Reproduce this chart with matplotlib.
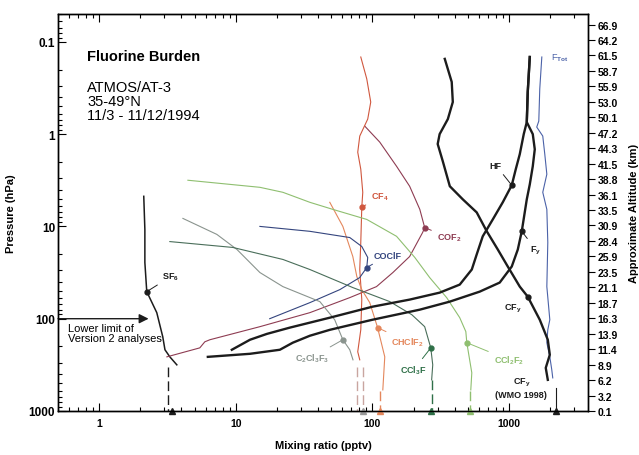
import matplotlib
matplotlib.use("Agg")
import matplotlib.pyplot as plt
from matplotlib.ticker import FixedLocator, NullLocator, NullFormatter

plt.rcParams["font.family"] = ["Liberation Sans", "DejaVu Sans"]
plt.rcParams["mathtext.fontset"] = "custom"
plt.rcParams["mathtext.rm"] = "Liberation Sans"
plt.rcParams["mathtext.bf"] = "Liberation Sans:bold"
plt.rcParams["mathtext.default"] = "bf"

# profiles: mixing ratio (pptv) vs pressure (hPa)
sf6_x = [2.12, 2.16, 2.16, 2.23, 2.64, 2.92, 3.03, 3.29, 3.70]
sf6_p = [4.72, 10.8, 24.6, 50.9, 86, 157, 217, 259, 316]

cof2_x = [87.8, 113, 150, 187, 222, 241, 233, 187, 141, 107, 68.2, 34.8, 15.0, 6.46, 5.93, 5.45, 3.13]
cof2_p = [0.819, 1.22, 2.23, 3.67, 6.54, 10.3, 11.6, 21.2, 31.6, 44.9, 59.1, 86, 122, 169, 178, 207, 259]

cf4_x = [82.1, 90.8, 97.1, 92.3, 80.7, 78.0, 82.1, 84.9, 83.5, 82.1, 80.7, 83.5, 82.1, 78.0, 80.7]
cf4_p = [0.146, 0.252, 0.449, 0.687, 1.05, 1.57, 2.40, 4.27, 6.22, 14.9, 29.3, 62.1, 132, 228, 279]

chclf2_x = [48.7, 60.7, 71.8, 76.8, 83.5, 95.5, 109, 123, 119]
chclf2_p = [5.48, 10.0, 21.2, 34.9, 48.4, 67.0, 125, 259, 591]

coclf_x = [17.7, 34.8, 57.7, 80.7, 90.8, 92.3, 83.5, 68.2, 34.8, 15.0]
coclf_p = [100, 67.0, 48.4, 35.8, 27.9, 21.7, 16.5, 13.2, 11.3, 10.0]

c2cl3f3_x = [4.10, 7.26, 10.2, 15.0, 22.1, 41.2, 52.9, 60.7, 68.2, 72.0]
c2cl3f3_p = [8.19, 12.2, 17.8, 31.6, 44.9, 65.3, 102.6, 169, 217, 279]

ccl3f_x = [3.29, 9.51, 22.1, 34.8, 71.8, 134, 194, 241, 267, 276, 271]
ccl3f_p = [14.6, 16.9, 22.8, 29.3, 46.0, 65.3, 90.5, 122, 207, 316, 460]

ccl2f2_x = [4.46, 15.0, 22.1, 34.8, 51.3, 90.8, 150, 204, 262, 349, 435, 482, 490, 533, 524]
ccl2f2_p = [3.16, 3.77, 4.27, 5.48, 6.54, 8.40, 12.8, 21.7, 35.8, 59.1, 97.5, 138, 182, 386, 591]

hf_x = [1416, 1368, 1346, 1279, 1196, 1118, 1045, 898, 759, 641, 579, 533, 435, 310, 187, 100, 48.7, 24.8, 16.9, 12.7, 9.35]
hf_p = [0.146, 0.349, 0.741, 1.0, 1.65, 2.40, 3.58, 5.48, 8.40, 12.8, 20.1, 29.3, 42.7, 52.2, 62.1, 74.1, 97.5, 125, 146, 169, 217]

fy_x = [1416, 1368, 1346, 1489, 1540, 1489, 1416, 1346, 1237, 1157, 1045, 853, 609, 368, 222, 100, 48.7, 34.8, 26.1, 21.0, 12.7, 6.24]
fy_p = [0.146, 0.349, 0.741, 1.0, 1.46, 2.23, 3.50, 5.09, 11.3, 17.8, 27.2, 40.6, 50.9, 65.3, 79.8, 102.6, 132, 153, 182, 217, 240, 259]

cfy_x = [338, 380, 387, 356, 310, 300, 327, 368, 458, 579, 686, 826, 977, 1196, 1368, 1675, 1918, 1984, 1853, 1918]
cfy_p = [0.153, 0.272, 0.449, 0.687, 1.0, 1.28, 1.97, 3.67, 5.09, 7.05, 11.3, 17.8, 27.2, 44.9, 57.7, 102.6, 169, 246, 341, 460]

ftot_x = [1734, 1675, 1648, 1592, 1762, 1823, 1887, 1762, 1887, 1918, 1887, 1984, 1918, 1887, 1984, 2051, 2085]
ftot_p = [0.146, 0.324, 0.722, 0.839, 1.05, 1.65, 2.72, 4.27, 6.54, 14.9, 44.9, 102.6, 132, 182, 259, 358, 438]

# tropospheric values (dashed lines down to the surface) and ground markers
dash_x = [3.18, 76.8, 84.9, 113, 271, 515]
dash_top = [333, 333, 333, 600, 460, 600]
tri_x = [3.4, 84.9, 113, 267, 515, 2193]
wmo_cfy = 2193

# labelled points: (text, marker x, marker p, text x, text p)
labels = [
    ("SF$_6$", 2.23, 50.9, 3.35, 34.9),
    ("CF$_4$", 83.5, 6.22, 113, 4.72),
    ("COF$_2$", 241, 10.3, 362, 13.2),
    ("COClF", 90.8, 27.9, 129, 20.7),
    ("CHClF$_2$", 109, 125, 181, 178),
    ("C$_2$Cl$_3$F$_3$", 60.7, 169, 36.0, 262),
    ("CCl$_3$F", 267, 207, 200, 358),
    ("CCl$_2$F$_2$", 490, 182, 993, 279),
    ("HF", 1045, 3.58, 798, 2.17),
    ("F$_y$", 1237, 11.3, 1566, 17.8),
    ("CF$_y$", 1368, 57.7, 1062, 75.9),
]

alt_labels = ["0.1", "3.2", "6.2", "8.9", "11.4", "13.9", "16.3", "18.7", "21.1", "23.5",
              "25.9", "28.4", "30.9", "33.5", "36.1", "38.8", "41.5", "44.3", "47.2",
              "50.1", "53.0", "55.9", "58.7", "61.5", "64.2", "66.9"]

BLACK = "#1c1c1c"
colors = {
    "SF$_6$": BLACK, "CF$_4$": "#d0573e", "COF$_2$": "#8e3c52", "COClF": "#34457e",
    "CHClF$_2$": "#e4875c", "C$_2$Cl$_3$F$_3$": "#8a948e", "CCl$_3$F": "#2f7048",
    "CCl$_2$F$_2$": "#8fbf70", "HF": BLACK, "F$_y$": BLACK, "CF$_y$": BLACK,
}
FTOT = "#4b62a8"


def main():
    fig = plt.figure(figsize=(6.39, 4.56), dpi=100)
    ax = fig.add_axes([0.0908, 0.0965, 0.829, 0.8705])
    ax.set_xscale("log")
    ax.set_yscale("log")

    thin = 0.8
    ax.plot(sf6_x, sf6_p, color=colors["SF$_6$"], lw=1.1)
    ax.plot(cof2_x, cof2_p, color=colors["COF$_2$"], lw=thin)
    ax.plot(cf4_x, cf4_p, color=colors["CF$_4$"], lw=thin)
    ax.plot(chclf2_x, chclf2_p, color=colors["CHClF$_2$"], lw=thin)
    ax.plot(coclf_x, coclf_p, color=colors["COClF"], lw=thin)
    ax.plot(c2cl3f3_x, c2cl3f3_p, color=colors["C$_2$Cl$_3$F$_3$"], lw=thin)
    ax.plot(ccl3f_x, ccl3f_p, color="#4a6e5a", lw=thin)
    ax.plot(ccl2f2_x, ccl2f2_p, color=colors["CCl$_2$F$_2$"], lw=thin)
    ax.plot(ftot_x, ftot_p, color=FTOT, lw=thin)
    ax.plot(hf_x, hf_p, color=BLACK, lw=1.7)
    ax.plot(fy_x, fy_p, color=BLACK, lw=1.7)
    ax.plot(cfy_x, cfy_p, color=BLACK, lw=1.7)

    # dashed extensions to the ground
    dash_colors = [BLACK, "#c9a5a0", "#c9a5a0", "#e4875c", "#2f7048", "#8fbf70"]
    for x, top, c in zip(dash_x, dash_top, dash_colors):
        ax.plot([x, x], [top, 1000], color=c, lw=1.0, ls=(0, (7, 3)))
    ax.plot([wmo_cfy, wmo_cfy], [560, 1000], color=BLACK, lw=0.8)
    tri_colors = [BLACK, "#999999", "#e4875c", "#2f7048", "#8fbf70", BLACK]
    for x, c in zip(tri_x, tri_colors):
        ax.plot(x, 1000, marker="^", color=c, ms=5, clip_on=False, zorder=5)

    # marker dots with leader lines to the labels
    for text, mx, mp, tx, tp in labels:
        c = colors[text]
        ax.plot(mx, mp, "o", color=c, ms=3.5, zorder=4)
        ax.annotate(text, xy=(mx, mp), xytext=(tx, tp), color=c, fontsize=6.5,
                    fontweight="bold", ha="center", va="center",
                    arrowprops=dict(arrowstyle="-", color=c, lw=0.7, shrinkA=2, shrinkB=0))
    ax.text(2345, 0.146, "F$_{Tot}$", color=FTOT, fontsize=6.5, ha="center", va="center")
    ax.text(1230, 560, "CF$_y$\n(WMO 1998)", color=BLACK, fontsize=6.5, fontweight="bold",
            ha="center", va="center", linespacing=1.3)

    # lower limit arrow
    ax.annotate("", xy=(2.3, 100), xytext=(0.5, 100),
                arrowprops=dict(arrowstyle="-|>", color=BLACK, lw=1.0, mutation_scale=14,
                                shrinkA=0, shrinkB=0))
    ax.text(0.019, 0.222, "Lower limit of\nVersion 2 analyses", transform=ax.transAxes,
            fontsize=8, va="top", ha="left", linespacing=1.0)

    ax.text(0.055, 0.894, "Fluorine Burden", transform=ax.transAxes, fontsize=10.5,
            fontweight="bold", va="center")
    ax.text(0.055, 0.835, "ATMOS/AT-3\n35-49°N\n11/3 - 11/12/1994", transform=ax.transAxes,
            fontsize=10.5, va="top", linespacing=1.0)

    ax.set_xlim(0.5, 3760)
    ax.set_ylim(1000, 0.05)
    ax.xaxis.set_major_locator(FixedLocator([1, 10, 100, 1000]))
    ax.set_xticklabels(["1", "10", "100", "1000"], fontsize=7.5, fontweight="bold")
    ax.yaxis.set_major_locator(FixedLocator([0.1, 1, 10, 100, 1000]))
    ax.set_yticklabels(["0.1", "1", "10", "100", "1000"], fontsize=8.5, fontweight="bold")
    ax.xaxis.set_minor_formatter(NullFormatter())
    ax.yaxis.set_minor_formatter(NullFormatter())
    ax.tick_params(which="both", direction="in", top=True, right=False, width=0.8)
    ax.tick_params(which="major", length=6)
    ax.tick_params(which="minor", length=3)
    ax.tick_params(axis="x", which="major", pad=5)
    ax.tick_params(axis="y", which="major", pad=2)

    ax.set_xlabel("Mixing ratio (pptv)", fontsize=8, fontweight="bold", labelpad=9)
    ax.set_ylabel("Pressure (hPa)", fontsize=8, fontweight="bold", labelpad=9)

    # approximate altitude on the right, evenly spaced in log pressure
    ax2 = ax.twinx()
    ax2.set_yscale("log")
    ax2.set_ylim(1000, 0.05)
    alt_pos = [1000 * 10 ** (-0.1675 * k) for k in range(len(alt_labels))]
    ax2.yaxis.set_major_locator(FixedLocator(alt_pos))
    ax2.yaxis.set_minor_locator(NullLocator())
    ax2.set_yticklabels(alt_labels, fontsize=7.5, fontweight="bold")
    ax2.tick_params(direction="out", length=5, width=0.8, pad=2)
    ax2.set_ylabel("Approximate Altitude (km)", fontsize=8, fontweight="bold", labelpad=8)

    for a in (ax, ax2):
        for s in a.spines.values():
            s.set_linewidth(1.0)

    plt.savefig("out.png", dpi=100)


if __name__ == "__main__":
    main()
